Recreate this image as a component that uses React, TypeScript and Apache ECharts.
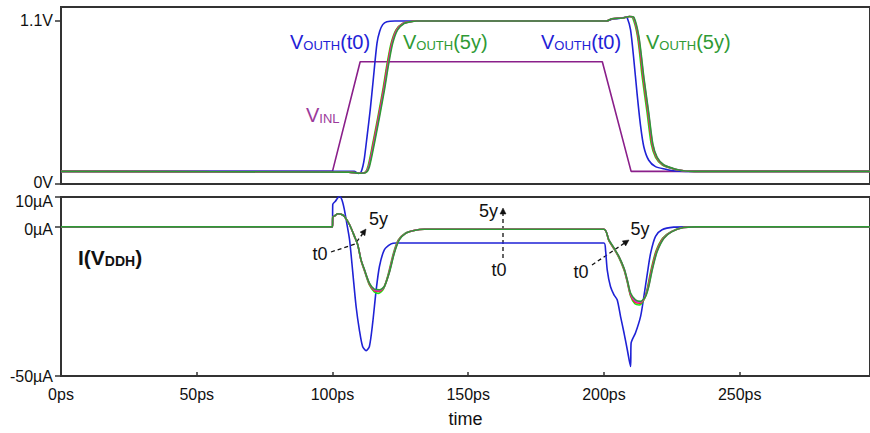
import React, { useEffect, useRef } from 'react';
import * as echarts from 'echarts';

const FONT = '"Liberation Sans", Arial, Helvetica, sans-serif';

// Axis ticks / labels
const xTickValues = [0, 50, 100, 150, 200, 250];
const xTickLabels = ['0ps', '50ps', '100ps', '150ps', '200ps', '250ps'];
const vTickValues = [0, 1.1];
const vTickLabels = ['{u|0V}', '{n|1.1V}'];
const iTickValues = [-50, 0, 10];
const iTickLabels = ['{n|-50µA}', '{z|0µA}', '{d|10µA}'];

// Top panel: voltages (time ps, volts)
const vInL: [number, number][] = [
  [0, 0.085], [100, 0.085], [110.2, 0.825], [199.4, 0.825], [210, 0.085], [298, 0.085],
];
const vOutT0: [number, number][] = [
  [0, 0.085], [108, 0.085], [109.5, 0.072], [110.5, 0.08], [111.2, 0.12], [111.8, 0.18],
  [112.8, 0.33], [113.9, 0.5], [115, 0.7], [116.4, 0.95], [117.4, 1.03], [118.5, 1.075],
  [120, 1.095], [123, 1.1], [201, 1.1], [203, 1.112], [206, 1.118], [208, 1.125],
  [208.6, 1.12], [209.8, 1.04], [211, 0.84], [212.2, 0.61], [213.5, 0.39], [214.7, 0.25],
  [216.5, 0.16], [219, 0.117], [222.7, 0.1], [226, 0.088], [230, 0.085], [298, 0.085],
];
const vOutA: [number, number][] = [
  [0, 0.085], [106, 0.08], [110, 0.073], [112, 0.078], [113.1, 0.12], [114.8, 0.27],
  [116.7, 0.45], [118.5, 0.63], [120.1, 0.81], [121.6, 0.95], [123.4, 1.04], [126, 1.084],
  [128.5, 1.095], [130.5, 1.1], [201, 1.1], [203, 1.115], [207, 1.12], [209.3, 1.13],
  [210.6, 1.12], [212.4, 0.99], [214.1, 0.72], [215.9, 0.48], [217.4, 0.27], [219, 0.18],
  [221.5, 0.128], [226, 0.1], [230, 0.088], [235, 0.085], [298, 0.085],
];
const vOutB: [number, number][] = [
  [0, 0.085], [106, 0.08], [110, 0.073], [112.1, 0.078], [113.3, 0.117], [115, 0.27],
  [116.9, 0.45], [118.7, 0.63], [120.3, 0.81], [121.8, 0.95], [123.6, 1.04], [126.1, 1.084],
  [128.5, 1.095], [130.6, 1.1], [201, 1.1], [203, 1.115], [207, 1.12], [209.4, 1.13],
  [210.8, 1.125], [212.6, 0.99], [214.4, 0.72], [216.2, 0.48], [217.7, 0.27], [219.3, 0.18],
  [221.8, 0.128], [226.1, 0.1], [230, 0.088], [235, 0.085], [298, 0.085],
];
const vOutC: [number, number][] = [
  [0, 0.085], [106, 0.08], [110, 0.073], [112.2, 0.078], [113.4, 0.117], [115.2, 0.27],
  [117.1, 0.45], [118.9, 0.63], [120.5, 0.81], [122, 0.95], [123.8, 1.04], [126.3, 1.084],
  [128.7, 1.095], [130.8, 1.1], [201, 1.1], [203, 1.115], [207, 1.12], [209.5, 1.13],
  [210.9, 1.125], [212.8, 0.99], [214.6, 0.72], [216.4, 0.48], [217.9, 0.27], [219.5, 0.18],
  [222, 0.128], [226.3, 0.1], [230, 0.088], [235, 0.085], [298, 0.085],
];
const vOut5y: [number, number][] = [
  [0, 0.085], [106, 0.08], [110, 0.073], [112.4, 0.078], [113.6, 0.117], [115.4, 0.27],
  [117.3, 0.45], [119.1, 0.63], [120.7, 0.81], [122.2, 0.95], [124, 1.04], [126.5, 1.084],
  [128.9, 1.095], [131, 1.1], [201, 1.1], [203, 1.115], [207, 1.12], [209.5, 1.13],
  [211, 1.125], [212.9, 0.99], [214.7, 0.72], [216.5, 0.48], [218, 0.27], [219.6, 0.18],
  [222.1, 0.128], [226.4, 0.1], [230, 0.088], [235, 0.085], [298, 0.085],
];

// Bottom panel: supply current I(VDDH) (time ps, µA)
const iT0: [number, number][] = [
  [0, 0], [100, 0], [100.1, 7.5], [101, 8.5], [102.6, 10.3], [103.5, 9], [104.4, 5.7],
  [105.3, 1], [106.3, -4.4], [107.5, -15.5], [108.7, -26.7], [109.9, -34.5], [111.1, -40.1],
  [112.4, -41.5], [113.6, -40.1], [114.8, -32.3], [116.1, -21.1], [117.3, -13.3],
  [119.1, -7.7], [121.6, -5.7], [123.4, -5.4], [200, -5.4], [200.6, -8], [201.2, -14.4],
  [202.4, -20], [203.7, -22.8], [204.9, -24.5], [206.1, -30], [207.4, -35.6], [208.6, -41.2],
  [209.8, -46.8], [210, -39], [211.6, -35.6], [213.5, -30], [214.7, -23.4], [216, -15.5],
  [217.2, -8.8], [219, -3.2], [221.4, -1], [225.7, -0.1], [230, 0], [298, 0],
];
const iA: [number, number][] = [
  [0, 0], [100, 0], [100.1, 3.2], [101, 3.8], [102, 4.4], [103.2, 4.2], [104.4, 3.5],
  [106.3, 0.7], [108.1, -3.2], [109.3, -6], [110.5, -11.2], [111.8, -14.8], [113.6, -19.5],
  [115.4, -21.8], [116.9, -22.3], [118.7, -21], [120.5, -16], [122.4, -9], [124.2, -4.5],
  [126.8, -2.1], [130, -1.2], [133.8, -0.8], [200, -0.8], [201.8, -4.6], [203.7, -7.4],
  [205.5, -10.3], [207.4, -14.5], [208.6, -18.6], [209.8, -23.2], [211.4, -25.8],
  [213, -26.2], [214.8, -24.3], [216, -20.5], [217.3, -14.6], [219.1, -8.3], [221.6, -3.8],
  [224.7, -1.6], [229, -0.2], [234, 0], [298, 0],
];
const iB: [number, number][] = [
  [0, 0], [100, 0], [100.1, 3.2], [101, 3.8], [102, 4.4], [103.2, 4.2], [104.4, 3.5],
  [106.3, 0.7], [108.1, -3.2], [109.3, -6], [110.5, -11.1], [111.8, -14.6], [113.6, -19.2],
  [115.4, -21.4], [117.1, -21.7], [118.9, -20.4], [120.7, -15.8], [122.6, -8.9],
  [124.4, -4.4], [127, -2.1], [130, -1.2], [133.8, -0.8], [200, -0.8], [201.8, -4.5],
  [203.7, -7.3], [205.5, -10.1], [207.4, -14.2], [208.6, -18.2], [209.8, -22.8],
  [211.5, -25.3], [213.2, -25.6], [215, -23.8], [216.2, -20.3], [217.5, -14.5],
  [219.3, -8.3], [221.8, -3.8], [224.9, -1.6], [229.2, -0.2], [234, 0], [298, 0],
];
const iC: [number, number][] = [
  [0, 0], [100, 0], [100.1, 3.2], [101, 3.8], [102, 4.4], [103.2, 4.2], [104.4, 3.5],
  [106.3, 0.7], [108.1, -3.2], [109.3, -6], [110.5, -11], [111.8, -14.5], [113.6, -19],
  [115.4, -21.1], [117.2, -21.4], [119, -20.2], [120.8, -15.6], [122.7, -8.8],
  [124.5, -4.4], [127, -2.1], [130, -1.2], [133.8, -0.8], [200, -0.8], [201.8, -4.4],
  [203.7, -7.2], [205.5, -10], [207.4, -14], [208.6, -18], [209.8, -22.5], [211.6, -25],
  [213.3, -25.3], [215.1, -23.6], [216.4, -20.1], [217.7, -14.4], [219.5, -8.3],
  [222, -3.8], [225, -1.6], [229.3, -0.2], [234, 0], [298, 0],
];
const i5y: [number, number][] = [
  [0, 0], [100, 0], [100.1, 3.2], [101, 3.8], [102, 4.4], [103.2, 4.2], [104.4, 3.5],
  [106.3, 0.7], [108.1, -3.2], [109.3, -6], [110.5, -11], [111.8, -14.4], [113.6, -18.9],
  [115.4, -20.9], [117.3, -21.1], [119.1, -20], [120.9, -15.5], [122.8, -8.8], [124.6, -4.4],
  [127.1, -2.1], [130.1, -1.2], [133.8, -0.8], [200, -0.8], [201.8, -4.4], [203.7, -7.1],
  [205.5, -9.9], [207.4, -13.9], [208.6, -17.8], [209.8, -22.2], [211.6, -24.5],
  [213.5, -25], [215.3, -23.4], [216.5, -20], [217.8, -14.4], [219.6, -8.3], [222.1, -3.8],
  [225.1, -1.6], [229.4, -0.2], [234, 0], [298, 0],
];

const BLUE = '#1f22d6';
const GREEN = '#2f9a35';
const PURPLE = '#8a1f8a';
const LIME = '#19e619';
const RED = '#ff2020';
const MAGENTA = '#e020e0';
const AXIS = '#333333';
const TEXT = '#111111';

const labeler = (vals: number[], labels: string[]) => (v: number) => {
  const k = vals.findIndex((x) => Math.abs(x - v) < 1e-6);
  return k >= 0 ? labels[k] : '';
};

const yRich = {
  n: {},
  u: { padding: [0, 0, 3, 0] },
  z: { padding: [6, 0, 0, 0] },
  d: { padding: [9, 0, 0, 0] },
};

const richSub = (main: number, sub: number, color: string, bold = false) => ({
  m: { fontSize: main, lineHeight: main + 2, fill: color, fontFamily: FONT, fontWeight: bold ? 'bold' : 'normal', verticalAlign: 'bottom' },
  s: { fontSize: sub, lineHeight: sub + 1, fill: color, fontFamily: FONT, fontWeight: bold ? 'bold' : 'normal', verticalAlign: 'bottom' },
});

const rtext = (x: number, y: number, text: string, color: string, main = 20, sub = 13, bold = false) => ({
  type: 'text',
  x,
  y,
  silent: true,
  style: {
    text,
    rich: richSub(main, sub, color, bold),
    fill: color,
    font: `${main}px ${FONT}`,
    align: 'left',
    verticalAlign: 'middle',
  },
});

const stext = (x: number, y: number, text: string) => ({
  type: 'text',
  x,
  y,
  silent: true,
  style: {
    text,
    fill: TEXT,
    font: `18px ${FONT}`,
    align: 'center',
    verticalAlign: 'middle',
  },
});

const dash = (points: number[][]) => ({
  type: 'polyline',
  silent: true,
  shape: { points },
  style: { stroke: TEXT, lineWidth: 1.3, lineDash: [4, 3], fill: null },
});

const head = (points: number[][]) => ({
  type: 'polygon',
  silent: true,
  shape: { points },
  style: { fill: TEXT, stroke: TEXT, lineWidth: 0.5 },
});

function line(name: string, data: [number, number][], color: string, axis: number, smooth: number | boolean = 0.25, width = 1.6) {
  return {
    name,
    type: 'line',
    data,
    xAxisIndex: axis,
    yAxisIndex: axis,
    showSymbol: false,
    symbol: 'none',
    smooth,
    lineStyle: { color, width },
    itemStyle: { color },
    z: 3,
  };
}

export default function App() {
  const ref = useRef<HTMLDivElement>(null);
  useEffect(() => {
    if (!ref.current) return;
    const chart = echarts.init(ref.current, null, { renderer: 'svg' });
    const axisLabelBase = { color: TEXT, fontFamily: FONT, fontSize: 16 };
    chart.setOption({
      animation: false,
      backgroundColor: '#ffffff',
      grid: [
        { left: 61, right: -2, top: 7, height: 177, show: true, borderColor: AXIS, borderWidth: 2, backgroundColor: 'transparent' },
        { left: 61, right: -2, top: 197, height: 179, show: true, borderColor: AXIS, borderWidth: 2, backgroundColor: 'transparent' },
      ],
      xAxis: [
        {
          type: 'value', gridIndex: 0, min: 0, max: 298,
          axisLine: { show: false, onZero: false }, axisTick: { show: false }, axisLabel: { show: false }, splitLine: { show: false },
        },
        {
          type: 'value', gridIndex: 1, min: 0, max: 298, position: 'bottom',
          axisLine: { show: false, onZero: false },
          axisTick: { show: true, inside: true, length: 4, customValues: xTickValues, lineStyle: { color: AXIS, width: 1.5 } },
          axisLabel: { ...axisLabelBase, margin: 10, customValues: xTickValues, formatter: labeler(xTickValues, xTickLabels) },
          splitLine: { show: false },
          name: 'time', nameLocation: 'middle', nameGap: 34,
          nameTextStyle: { color: TEXT, fontFamily: FONT, fontSize: 18 },
        },
      ],
      yAxis: [
        {
          type: 'value', gridIndex: 0, min: 0, max: 1.194,
          axisLine: { show: false, onZero: false },
          axisTick: { show: true, length: 6, customValues: vTickValues, lineStyle: { color: AXIS, width: 1.5 } },
          axisLabel: { ...axisLabelBase, margin: 8, customValues: vTickValues, formatter: labeler(vTickValues, vTickLabels), rich: yRich },
          splitLine: { show: false },
        },
        {
          type: 'value', gridIndex: 1, min: -50, max: 10,
          axisLine: { show: false, onZero: false },
          axisTick: { show: true, length: 6, customValues: iTickValues, lineStyle: { color: AXIS, width: 1.5 } },
          axisLabel: { ...axisLabelBase, margin: 8, customValues: iTickValues, formatter: labeler(iTickValues, iTickLabels), rich: yRich },
          splitLine: { show: false },
        },
      ],
      series: [
        line('VINL', vInL, PURPLE, 0, false),
        line('VOUTH(t0)', vOutT0, BLUE, 0),
        line('VOUTH(a)', vOutA, LIME, 0),
        line('VOUTH(b)', vOutB, RED, 0),
        line('VOUTH(c)', vOutC, MAGENTA, 0),
        line('VOUTH(5y)', vOut5y, GREEN, 0),
        line('I t0', iT0, BLUE, 1),
        line('I a', iA, LIME, 1),
        line('I b', iB, RED, 1),
        line('I c', iC, MAGENTA, 1),
        line('I 5y', i5y, GREEN, 1),
      ],
      graphic: [
        rtext(290, 41, '{m|V}{s|OUTH}{m|(t0)}', BLUE),
        rtext(403, 41, '{m|V}{s|OUTH}{m|(5y)}', GREEN),
        rtext(541, 41, '{m|V}{s|OUTH}{m|(t0)}', BLUE),
        rtext(646, 41, '{m|V}{s|OUTH}{m|(5y)}', GREEN),
        rtext(306, 114, '{m|V}{s|INL}', '#9b3a9b'),
        rtext(78, 256, '{m|I(V}{s|DDH}{m|)}', TEXT, 21, 14, true),
        stext(320, 254, 't0'),
        stext(378.5, 219, '5y'),
        dash([[331, 252], [355, 244], [362.5, 234]]),
        head([[366, 229], [364.9, 235.7], [360.1, 232.1]]),
        stext(488.5, 211, '5y'),
        stext(499, 270, 't0'),
        dash([[503, 258], [503, 214]]),
        head([[503, 208], [500, 214], [506, 214]]),
        stext(581, 272, 't0'),
        stext(640, 229, '5y'),
        dash([[592, 265], [624, 243.4]]),
        head([[629, 240], [625.7, 245.9], [622.3, 240.9]]),
      ],
    });
    return () => chart.dispose();
  }, []);
  return <div ref={ref} style={{ position: 'fixed', left: 0, top: 0, width: 870, height: 433 }} />;
}
